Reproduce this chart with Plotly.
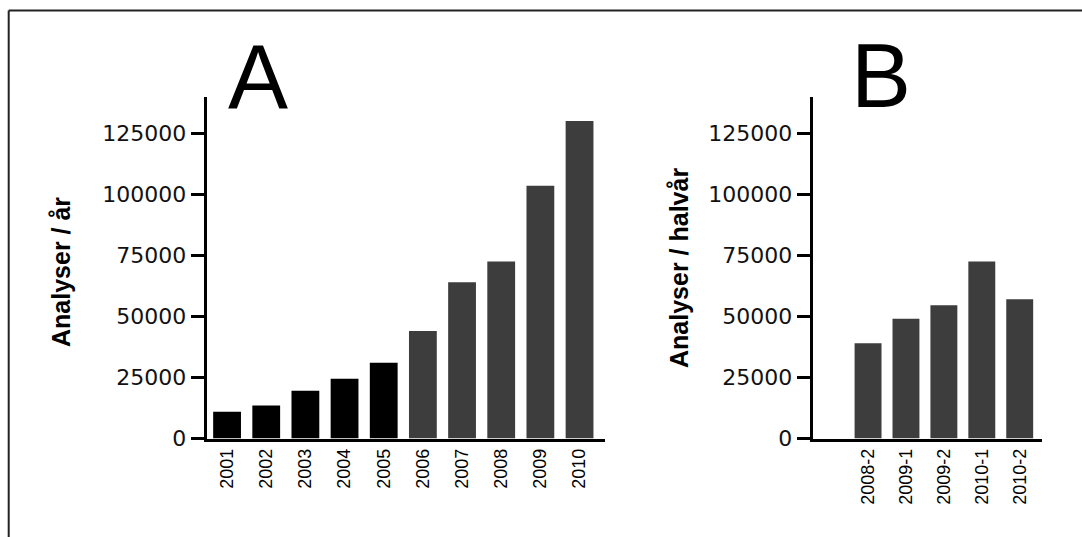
import plotly.graph_objects as go

# Panel A: analyses per year
years = ["2001", "2002", "2003", "2004", "2005", "2006", "2007", "2008", "2009", "2010"]
per_year = [11000, 13500, 19500, 24500, 31000, 44000, 64000, 72500, 103500, 130000]

# Panel B: analyses per half-year
halves = ["2008-2", "2009-1", "2009-2", "2010-1", "2010-2"]
per_half = [39000, 49000, 54500, 72500, 57000]

y_ticks = [0, 25000, 50000, 75000, 100000, 125000]

W, H = 1082, 537
BLACK = "#000000"
GREY = "#3d3d3d"


def fx(px):
    """pixel column -> paper x"""
    return px / W


def fy(px):
    """pixel row (from top) -> paper y"""
    return (H - px) / H


year_colors = [BLACK if int(y) <= 2005 else GREY for y in years]

fig = go.Figure()
fig.add_trace(go.Bar(x=list(range(len(years))), y=per_year, marker=dict(color=year_colors, line=dict(width=0)),
                     width=0.71, xaxis="x", yaxis="y", showlegend=False))
fig.add_trace(go.Bar(x=list(range(len(halves))), y=per_half, marker=dict(color=GREY, line=dict(width=0)),
                     width=0.71, xaxis="x2", yaxis="y2", showlegend=False))

tick_font = dict(family="DejaVu Sans", size=22, color="#111111")
xtick_font = dict(family="Liberation Sans", size=18, color="#000000")

y_dom = [fy(438.5), fy(96.5)]

common_y = dict(range=[0, 140000], tickvals=y_ticks, ticktext=[str(v) for v in y_ticks],
                showline=True, linecolor="black", linewidth=3, ticks="outside", ticklen=13,
                tickwidth=2.5, tickcolor="black", tickfont=tick_font, showgrid=False,
                zeroline=False, domain=y_dom, automargin=False)

common_x = dict(tickangle=-90, tickfont=xtick_font, showline=True, linecolor="black",
                linewidth=3, ticks="", showgrid=False, zeroline=False, automargin=False)

fig.update_layout(
    template="none",
    width=W, height=H, autosize=False,
    margin=dict(l=0, r=0, t=0, b=0, pad=0),
    paper_bgcolor="white", plot_bgcolor="white",
    bargap=0.29,
    xaxis=dict(domain=[fx(206.7), fx(605)], range=[-0.52, 9.65], tickvals=list(range(len(years))),
               ticktext=years, anchor="y", **common_x),
    yaxis=dict(anchor="x", **common_y),
    xaxis2=dict(domain=[fx(812.7), fx(1041.7)], range=[-1.46, 4.58], tickvals=list(range(len(halves))),
                ticktext=halves, anchor="y2", **common_x),
    yaxis2=dict(anchor="x2", **common_y),
)

# outer frame (top and left edges)
fig.add_shape(type="line", xref="paper", yref="paper", x0=fx(8.7), x1=1.0, y0=fy(10.5), y1=fy(10.5),
              line=dict(color="#222222", width=2))
fig.add_shape(type="line", xref="paper", yref="paper", x0=fx(8.7), x1=fx(8.7), y0=0, y1=fy(10.5),
              line=dict(color="#222222", width=2))

title_font = dict(family="Liberation Sans", size=25, color="black")
fig.add_annotation(text="<b>Analyser / år</b>", xref="paper", yref="paper", x=fx(61), y=fy(272),
                   textangle=-90, showarrow=False, font=title_font, xanchor="center", yanchor="middle")
fig.add_annotation(text="<b>Analyser / halvår</b>", xref="paper", yref="paper", x=fx(679), y=fy(268),
                   textangle=-90, showarrow=False, font=title_font, xanchor="center", yanchor="middle")

panel_font = dict(family="Liberation Sans", size=90, color="black")
fig.add_annotation(text="A", xref="paper", yref="paper", x=fx(258), y=fy(77), showarrow=False,
                   font=panel_font, xanchor="center", yanchor="middle")
fig.add_annotation(text="B", xref="paper", yref="paper", x=fx(881), y=fy(76), showarrow=False,
                   font=panel_font, xanchor="center", yanchor="middle")

fig.write_html("out.html", config={"responsive": False})
